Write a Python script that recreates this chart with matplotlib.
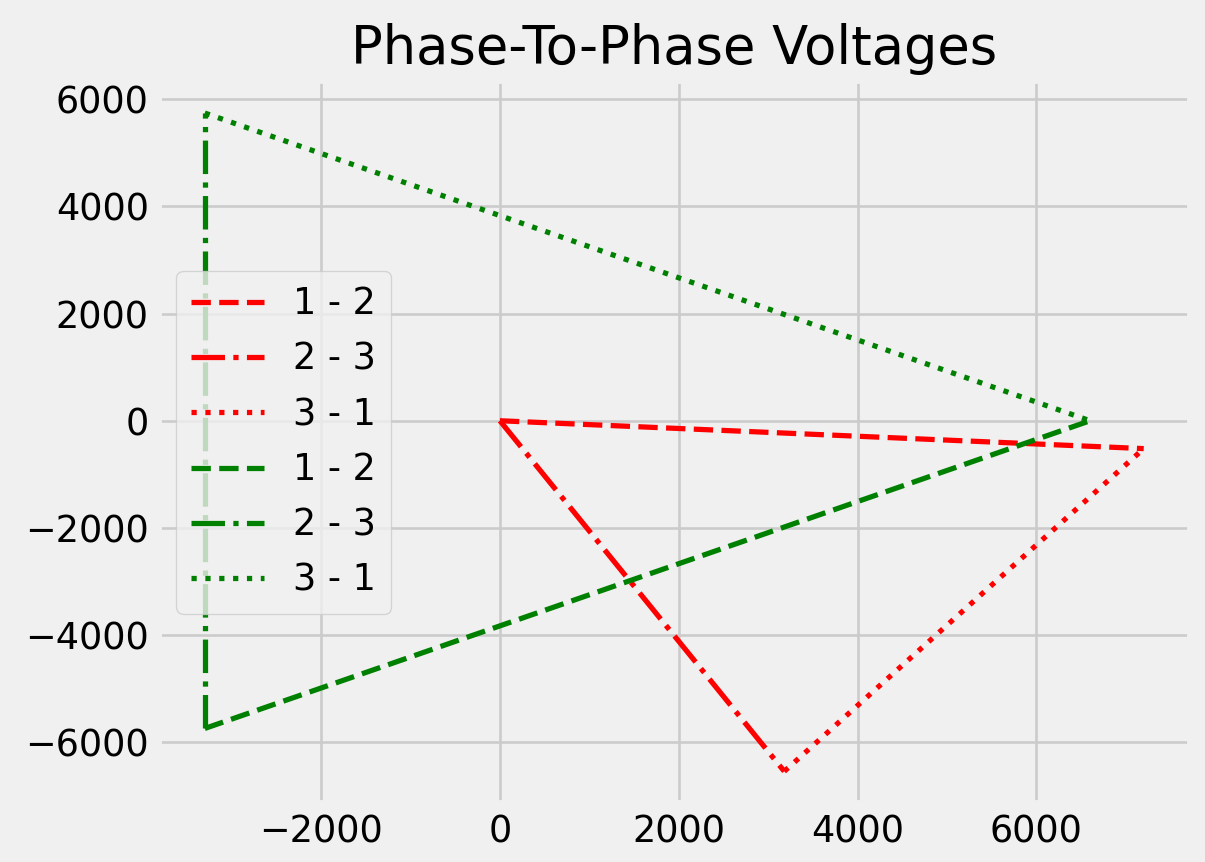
import matplotlib
matplotlib.use('Agg')
import matplotlib.pyplot as plt

# phase-to-phase voltage triangles
red_x = {'1 - 2': [0, 7200], '2 - 3': [0, 3180], '3 - 1': [3180, 7200]}
red_y = {'1 - 2': [0, -520], '2 - 3': [0, -6540], '3 - 1': [-6540, -520]}
green_x = {'1 - 2': [-3300, 6600], '2 - 3': [-3300, -3300], '3 - 1': [-3300, 6600]}
green_y = {'1 - 2': [-5740, 0], '2 - 3': [-5740, 5740], '3 - 1': [5740, 0]}
styles = {'1 - 2': '--', '2 - 3': '-.', '3 - 1': ':'}

plt.style.use('fivethirtyeight')

fig, ax = plt.subplots(figsize=(6.4, 4.578), dpi=188.3)

for name in red_x:
    ax.plot(red_x[name], red_y[name], color='r', linestyle=styles[name],
            linewidth=2, label=name)
for name in green_x:
    ax.plot(green_x[name], green_y[name], color='g', linestyle=styles[name],
            linewidth=2, label=name)

ax.set_title('Phase-To-Phase Voltages')
ax.legend(loc='center left')

fig.subplots_adjust(left=0.131, right=0.988, bottom=0.067, top=0.907)
fig.savefig('out.png', dpi=188.3)
